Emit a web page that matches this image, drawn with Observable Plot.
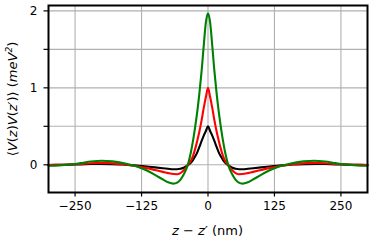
<!DOCTYPE html>
<html>
<head>
<meta charset="utf-8">
<script src="https://cdn.jsdelivr.net/npm/d3@7"></script>
<script src="https://cdn.jsdelivr.net/npm/@observablehq/plot@0.6"></script>
<style>
  html, body { margin: 0; padding: 0; background: white; }
  #chart { width: 374px; height: 243px; }
</style>
</head>
<body>
<div id="chart"></div>
<script>
// separation z - z' (nm)
const dz = [-300,-280,-260,-240,-220,-200,-180,-160,-145,-130,-115,-100,-85,-75,-65,-58,-52,-46,-40,-36,-32,-28,-24,-20,-16,-12,-8,-4,0,4,8,12,16,20,24,28,32,36,40,46,52,58,65,75,85,100,115,130,145,160,180,200,220,240,260,280,300];
// correlation <V(z)V(z')> (meV^2)
const blackVals = [-0.002,-0.001,0.002,0.006,0.010,0.012,0.009,0.003,-0.005,-0.013,-0.023,-0.034,-0.045,-0.052,-0.058,-0.058,-0.052,-0.038,-0.015,0.005,0.030,0.065,0.110,0.165,0.235,0.310,0.380,0.440,0.500,0.440,0.380,0.310,0.235,0.165,0.110,0.065,0.030,0.005,-0.015,-0.038,-0.052,-0.058,-0.058,-0.052,-0.045,-0.034,-0.023,-0.013,-0.005,0.003,0.009,0.012,0.010,0.006,0.002,-0.001,-0.002];
const redVals = [-0.004,-0.001,0.004,0.012,0.021,0.025,0.019,0.007,-0.006,-0.022,-0.043,-0.067,-0.092,-0.108,-0.120,-0.122,-0.108,-0.075,-0.025,0.010,0.055,0.120,0.210,0.320,0.440,0.580,0.740,0.880,1.000,0.880,0.740,0.580,0.440,0.320,0.210,0.120,0.055,0.010,-0.025,-0.075,-0.108,-0.122,-0.120,-0.108,-0.092,-0.067,-0.043,-0.022,-0.006,0.007,0.019,0.025,0.021,0.012,0.004,-0.001,-0.004];
const greenVals = [-0.013,-0.009,0.003,0.022,0.043,0.053,0.045,0.024,-0.002,-0.032,-0.075,-0.130,-0.190,-0.228,-0.245,-0.232,-0.195,-0.130,-0.040,0.050,0.170,0.320,0.500,0.700,0.940,1.220,1.550,1.850,1.970,1.850,1.550,1.220,0.940,0.700,0.500,0.320,0.170,0.050,-0.040,-0.130,-0.195,-0.232,-0.245,-0.228,-0.190,-0.130,-0.075,-0.032,-0.002,0.024,0.045,0.053,0.043,0.022,0.003,-0.009,-0.013];
const seriesColors = ["black", "#ff0000", "#008000"];
const xTicks = [-250, -125, 0, 125, 250];
const yTicks = [0, 0.5, 1, 1.5, 2];

const toRows = vals => dz.map((x, i) => ({x, y: vals[i]}));
const fmtX = d => d < 0 ? "\u2212" + (-d) : String(d);
const fmtY = d => Number.isInteger(d) ? String(d) : "";

const plot = Plot.plot({
  width: 374,
  height: 243,
  marginLeft: 48,
  marginRight: 7,
  marginTop: 5,
  marginBottom: 51,
  x: {domain: [-300, 300]},
  y: {domain: [-0.36, 2.07]},
  style: {fontFamily: "'DejaVu Sans', sans-serif", fontSize: "12px", color: "black", background: "white"},
  marks: [
    Plot.gridX(xTicks, {stroke: "#b0b0b0", strokeOpacity: 1, strokeWidth: 1.1}),
    Plot.gridY(yTicks, {stroke: "#b0b0b0", strokeOpacity: 1, strokeWidth: 1.1}),
    Plot.line(toRows(blackVals), {x: "x", y: "y", stroke: seriesColors[0], strokeWidth: 2.1, curve: "monotone-x"}),
    Plot.line(toRows(redVals), {x: "x", y: "y", stroke: seriesColors[1], strokeWidth: 2.1, curve: "monotone-x"}),
    Plot.line(toRows(greenVals), {x: "x", y: "y", stroke: seriesColors[2], strokeWidth: 2.1, curve: "monotone-x"}),
    Plot.frame({stroke: "black", strokeWidth: 2}),
    Plot.axisX(xTicks, {tickSize: 4.5, tickPadding: 4.5, strokeWidth: 1.2, label: null, tickFormat: fmtX}),
    Plot.axisY(yTicks, {tickSize: 4.5, tickPadding: 6.5, strokeWidth: 1.2, label: null, tickFormat: fmtY})
  ]
});

const svg = d3.select(plot);
// x-axis label
const xl = svg.append("text")
  .attr("x", 207.5).attr("y", 235)
  .attr("text-anchor", "middle")
  .style("font-family", "'DejaVu Sans', sans-serif")
  .style("font-size", "13px")
  .attr("fill", "black");
xl.append("tspan").attr("font-style", "italic").text("z");
xl.append("tspan").text(" \u2212 ");
xl.append("tspan").attr("font-style", "italic").text("z\u2032");
xl.append("tspan").text(" (nm)");

// y-axis label
const yl = svg.append("text")
  .attr("transform", "translate(16.5,99) rotate(-90)")
  .attr("text-anchor", "middle")
  .style("font-family", "'DejaVu Sans', sans-serif")
  .style("font-size", "13px")
  .attr("fill", "black");
yl.append("tspan").text("\u27E8");
yl.append("tspan").attr("font-style", "italic").text("V");
yl.append("tspan").text("(");
yl.append("tspan").attr("font-style", "italic").text("z");
yl.append("tspan").text(")");
yl.append("tspan").attr("font-style", "italic").text("V");
yl.append("tspan").text("(");
yl.append("tspan").attr("font-style", "italic").text("z\u2032");
yl.append("tspan").text(")\u27E9 (");
yl.append("tspan").attr("font-style", "italic").text("meV");
yl.append("tspan").attr("font-style", "italic").attr("font-size", "9px").attr("dy", "-5").text("2");
yl.append("tspan").attr("dy", "5").text(")");

document.getElementById("chart").appendChild(plot);
</script>
</body>
</html>
